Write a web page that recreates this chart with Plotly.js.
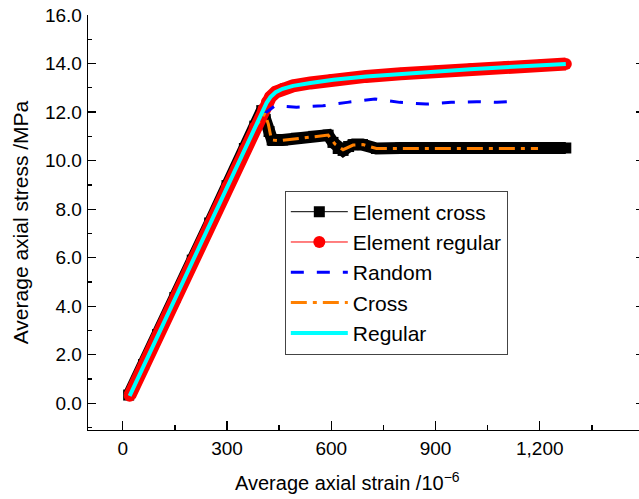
<!DOCTYPE html>
<html>
<head>
<meta charset="utf-8">
<script src="https://cdn.plot.ly/plotly-3.0.1.min.js"></script>
<style>
  html, body { margin: 0; padding: 0; overflow: hidden; background: #fff; }
  #chart { width: 650px; height: 499px; }
</style>
</head>
<body>
<div id="chart"></div>
<script>
// ---- Data (strain in 10^-6, stress in MPa) ----
const elemCrossX = [17, 60, 100, 150, 200, 250, 300, 350, 380, 400, 410, 421, 430, 460, 500, 550, 591, 605, 620, 634, 650, 663, 690, 730, 800, 900, 1000, 1100, 1200, 1275];
const elemCrossY = [0.34, 1.60, 2.83, 4.36, 5.90, 7.43, 8.97, 10.50, 11.42, 12.06, 11.7, 11.2, 10.85, 10.85, 10.92, 11.0, 11.05, 10.75, 10.5, 10.42, 10.58, 10.66, 10.66, 10.5, 10.52, 10.52, 10.52, 10.52, 10.52, 10.52];

const elemRegX = [20, 60, 100, 150, 200, 250, 300, 350, 380, 405, 415, 425, 440, 460, 490, 540, 600, 700, 800, 900, 1000, 1100, 1200, 1275];
const elemRegY = [0.31, 1.54, 2.77, 4.30, 5.84, 7.37, 8.91, 10.44, 11.36, 12.13, 12.42, 12.62, 12.82, 12.96, 13.08, 13.2, 13.32, 13.47, 13.58, 13.67, 13.76, 13.85, 13.92, 13.98];

const randomX = [20, 200, 380, 400, 414, 438, 500, 576, 646, 726, 797, 873, 945, 1019, 1077, 1109];
const randomY = [0.31, 5.84, 11.36, 11.85, 11.99, 12.26, 12.2, 12.26, 12.4, 12.54, 12.4, 12.33, 12.4, 12.43, 12.4, 12.43];

const crossX = [20, 200, 380, 409, 419, 428, 450, 500, 550, 591, 611, 634, 663, 691, 730, 800, 900, 1000, 1100, 1195];
const crossY = [0.31, 5.84, 11.36, 11.94, 11.5, 10.85, 10.82, 10.9, 10.98, 11.05, 10.68, 10.45, 10.64, 10.66, 10.5, 10.5, 10.5, 10.5, 10.5, 10.5];

const regularX = [20, 100, 200, 300, 380, 405, 414, 425, 440, 460, 490, 540, 606, 700, 846, 1000, 1100, 1275];
const regularY = [0.31, 2.77, 5.84, 8.91, 11.36, 12.13, 12.38, 12.62, 12.82, 12.96, 13.08, 13.2, 13.33, 13.47, 13.63, 13.76, 13.85, 13.98];

const seriesNames = ["Element cross", "Element regular", "Random", "Cross", "Regular"];
const xTickVals = [0, 300, 600, 900, 1200];
const yTickVals = [0, 2, 4, 6, 8, 10, 12, 14, 16];

const FONT = "Liberation Sans, Arial, Helvetica, sans-serif";

const traces = [
  // thick band under element cross markers
  { x: elemCrossX, y: elemCrossY, mode: "lines", showlegend: false, hoverinfo: "skip",
    line: { color: "#000000", width: 12 } },
  { x: elemCrossX, y: elemCrossY, name: seriesNames[0], mode: "lines+markers",
    line: { color: "#000000", width: 1 },
    marker: { symbol: "square", size: 11, color: "#000000" } },
  // thick band under element regular markers
  { x: elemRegX, y: elemRegY, mode: "lines", showlegend: false, hoverinfo: "skip",
    line: { color: "#FF0000", width: 13 } },
  { x: elemRegX, y: elemRegY, name: seriesNames[1], mode: "lines+markers",
    line: { color: "#FF0000", width: 1 },
    marker: { symbol: "circle", size: 12, color: "#FF0000" } },
  { x: randomX, y: randomY, name: seriesNames[2], mode: "lines",
    line: { color: "#0000FF", width: 3, dash: "13px,13px" } },
  { x: crossX, y: crossY, name: seriesNames[3], mode: "lines",
    line: { color: "#FF8000", width: 3, dash: "16px,6px,4px,6px" } },
  { x: regularX, y: regularY, name: seriesNames[4], mode: "lines",
    line: { color: "#00FFFF", width: 4 } }
];

const layout = {
  width: 650, height: 499,
  margin: { l: 88, r: 6, t: 15, b: 69 },
  paper_bgcolor: "#ffffff", plot_bgcolor: "#ffffff",
  font: { family: FONT, color: "#000000", size: 19 },
  showlegend: true,
  xaxis: {
    range: [-100, 1500], tickvals: xTickVals, tickformat: ",d",
    ticks: "inside", ticklen: 9, tickwidth: 1.3, tickcolor: "#000",
    minor: { dtick: 150, tick0: 0, ticks: "inside", ticklen: 5, tickwidth: 1.3, tickcolor: "#000" },
    showline: true, linecolor: "#000", linewidth: 1.3,
    showgrid: false, zeroline: false,
    tickfont: { family: FONT, size: 19, color: "#000" },
    ticklabelstandoff: 1
  },
  xaxis2: {
    overlaying: "x", side: "top", anchor: "y",
    range: [-0.343, 4.68], dtick: 1, tick0: 0,
    ticks: "inside", ticklen: 8, tickwidth: 1.3, tickcolor: "#000",
    minor: { dtick: 0.5, tick0: 0, ticks: "inside", ticklen: 4, tickwidth: 1.3, tickcolor: "#000" },
    showticklabels: false, showline: true, linecolor: "#000", linewidth: 1.3,
    showgrid: false, zeroline: false
  },
  yaxis: {
    range: [-1.1, 16], tickvals: yTickVals, tickformat: ".1f",
    ticks: "inside", ticklen: 8, tickwidth: 1.3, tickcolor: "#000",
    minor: { dtick: 1, tick0: 0, ticks: "inside", ticklen: 4, tickwidth: 1.3, tickcolor: "#000" },
    showline: true, linecolor: "#000", linewidth: 1.3, mirror: "ticks",
    showgrid: false, zeroline: false,
    tickfont: { family: FONT, size: 19, color: "#000" },
    ticklabelstandoff: 1,
    title: { text: "Average axial stress /MPa", font: { family: FONT, size: 21, color: "#000" }, standoff: 10 }
  },
  legend: {
    x: 0.354, xanchor: "left", y: 0.577, yanchor: "top",
    bgcolor: "#ffffff", bordercolor: "#444444", borderwidth: 1,
    font: { family: FONT, size: 21, color: "#000" },
    itemwidth: 57, tracegroupgap: 0
  },
  annotations: [{
    text: "Average axial strain /10<sup>\u22126</sup>",
    xref: "paper", yref: "paper", x: 0.4676, y: -0.125,
    xanchor: "center", yanchor: "middle", showarrow: false,
    font: { family: FONT, size: 20, color: "#000" }
  }]
};

Plotly.newPlot("chart", traces, layout, { displayModeBar: false, staticPlot: true });
</script>
</body>
</html>
